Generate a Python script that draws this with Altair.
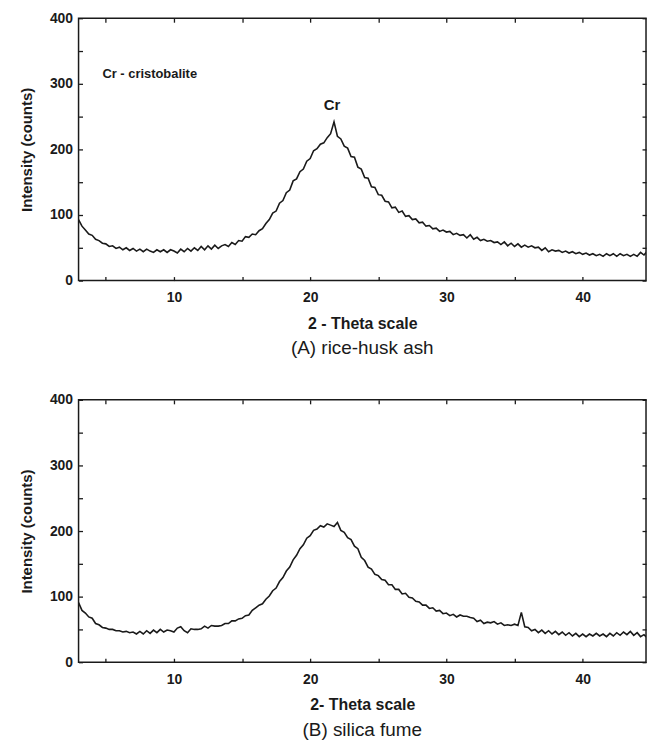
import altair as alt
import pandas as pd

# 2-theta sampling grid (degrees)
two_theta = [round(3 + 0.25 * i, 2) for i in range(169)]

# (A) rice-husk ash intensities (4 values per degree)
rha_counts = [
    93, 83, 77, 71,
    69, 63, 61, 57,
    56, 52, 53, 49,
    51, 47, 50, 46,
    49, 45, 48, 44,
    48, 45, 43, 47,
    44, 47, 43, 47,
    45, 42, 48, 44,
    49, 45, 50, 46,
    52, 47, 53, 48,
    54, 49, 53, 55,
    52, 58, 55, 61,
    60, 67, 66, 71,
    70, 76, 79, 87,
    93, 103, 106, 118,
    122, 134, 138, 152,
    155, 166, 170, 182,
    186, 198, 201, 208,
    210, 218, 224, 242,
    220, 216, 205, 202,
    189, 188, 173, 170,
    157, 156, 143, 142,
    131, 130, 121, 120,
    111, 112, 104, 106,
    98, 99, 93, 94,
    88, 89, 83, 84,
    79, 80, 75, 77,
    74, 75, 70, 72,
    69, 70, 65, 70,
    63, 66, 61, 63,
    60, 61, 58, 59,
    55, 59, 53, 57,
    52, 56, 51, 54,
    51, 53, 50, 51,
    46, 50, 44, 47,
    45, 46, 43, 45,
    42, 44, 41, 43,
    40, 42, 39, 41,
    38, 40, 37, 41,
    38, 41, 37, 41,
    38, 40, 37, 40,
    37, 43, 39, 45,
    43,
]

# (B) silica fume intensities
sf_counts = [
    91, 79, 75, 69,
    67, 59, 57, 53,
    52, 50, 50, 48,
    48, 46, 47, 45,
    46, 43, 47, 43,
    48, 44, 49, 45,
    50, 46, 49, 48,
    46, 52, 54, 48,
    45, 51, 50, 50,
    51, 55, 52, 56,
    55, 55, 56, 59,
    59, 63, 63, 66,
    67, 71, 72, 79,
    83, 87, 89, 96,
    101, 109, 113, 123,
    129, 139, 145, 156,
    163, 173, 179, 189,
    193, 201, 203, 208,
    206, 211, 209, 207,
    213, 201, 198, 190,
    187, 177, 173, 160,
    155, 145, 142, 134,
    132, 126, 125, 118,
    118, 111, 111, 104,
    105, 99, 98, 93,
    92, 87, 87, 82,
    83, 78, 79, 74,
    75, 71, 73, 69,
    72, 70, 70, 68,
    67, 62, 64, 59,
    61, 60, 62, 58,
    60, 56, 57, 56,
    58, 56, 76, 54,
    53, 48, 50, 45,
    49, 44, 48, 43,
    47, 42, 46, 41,
    45, 40, 44, 39,
    43, 39, 43, 40,
    44, 40, 43, 39,
    44, 40, 45, 41,
    46, 42, 47, 41,
    45, 39, 42, 37,
    36,
]

x_label_values = [10, 20, 30, 40]
x_tick_values = [5, 10, 15, 20, 25, 30, 35, 40]
y_label_values = [0, 100, 200, 300, 400]
y_tick_values = [0, 50, 100, 150, 200, 250, 300, 350, 400]

annot_text = ["Cr - cristobalite", "Cr"]
annot_x = [4.75, 21.6]
annot_y = [315, 268]

FONT = "Liberation Sans, Arial, Helvetica, sans-serif"
INK = "#1a1a1a"
W = 571

xscale = alt.Scale(domain=[3, 44.65], nice=False, zero=False)
yscale = alt.Scale(domain=[0, 400], nice=False, zero=False)


def panel(counts, xtitle, subtitle, with_annot, height):
    df = pd.DataFrame({"theta": two_theta, "counts": counts})

    line = alt.Chart(df).mark_line(color=INK, strokeWidth=1.6, interpolate="linear", clip=True).encode(
        x=alt.X("theta:Q", scale=xscale,
                axis=alt.Axis(values=x_label_values, title=xtitle, ticks=False, domain=False,
                              grid=False, labelFont=FONT, labelFontSize=14, labelFontWeight="bold",
                              labelColor=INK, labelPadding=10, titleFont=FONT, titleFontSize=16,
                              titleFontWeight="bold", titleColor=INK, titlePadding=11)),
        y=alt.Y("counts:Q", scale=yscale,
                axis=alt.Axis(values=y_label_values, title="Intensity (counts)", ticks=False,
                              domain=False, grid=False, labelFont=FONT, labelFontSize=14,
                              labelFontWeight="bold", labelColor=INK, labelPadding=6,
                              titleFont=FONT, titleFontSize=15, titleFontWeight="bold",
                              titleColor=INK, titlePadding=15)),
    )

    tick_style = dict(labels=False, title=None, domain=False, grid=False, ticks=True,
                      tickSize=4, tickWidth=1.3, tickColor=INK, offset=-4)

    ticks_bl = alt.Chart(df).mark_line(opacity=0, clip=True).encode(
        x=alt.X("theta:Q", scale=xscale, axis=alt.Axis(orient="bottom", values=x_tick_values, **tick_style)),
        y=alt.Y("counts:Q", scale=yscale, axis=alt.Axis(orient="left", values=y_tick_values, **tick_style)),
    )
    ticks_tr = alt.Chart(df).mark_line(opacity=0, clip=True).encode(
        x=alt.X("theta:Q", scale=xscale, axis=alt.Axis(orient="top", values=x_tick_values, **tick_style)),
        y=alt.Y("counts:Q", scale=yscale, axis=alt.Axis(orient="right", values=y_tick_values, **tick_style)),
    )

    layers = [line, ticks_bl, ticks_tr]
    if with_annot:
        adf = pd.DataFrame({"t": annot_text, "x": annot_x, "y": annot_y})
        legend_txt = alt.Chart(adf.iloc[[0]]).mark_text(
            align="left", baseline="middle", font=FONT, fontSize=13, fontWeight="bold", color=INK
        ).encode(x=alt.X("x:Q", scale=xscale, axis=None), y=alt.Y("y:Q", scale=yscale, axis=None), text="t:N")
        peak_txt = alt.Chart(adf.iloc[[1]]).mark_text(
            align="center", baseline="middle", font=FONT, fontSize=15, fontWeight="bold", color=INK
        ).encode(x=alt.X("x:Q", scale=xscale, axis=None), y=alt.Y("y:Q", scale=yscale, axis=None), text="t:N")
        layers += [legend_txt, peak_txt]

    return alt.layer(*layers).resolve_axis(x="independent", y="independent").properties(
        width=W, height=height,
        title=alt.TitleParams(subtitle, orient="bottom", anchor="middle", font=FONT, fontSize=19,
                              fontWeight="normal", color=INK, offset=8),
    )


top = panel(rha_counts, "2 - Theta scale", "(A) rice-husk ash", True, 264)
bottom = panel(sf_counts, "2- Theta scale", "(B) silica fume", False, 264)

chart = alt.vconcat(top, bottom, spacing=33).properties(
    padding={"left": 10, "top": 0, "right": 0, "bottom": 0},
    background="white",
).configure_view(stroke=INK, strokeWidth=1.5)

chart.save("out.html", embed_options={"renderer": "svg", "actions": False})
